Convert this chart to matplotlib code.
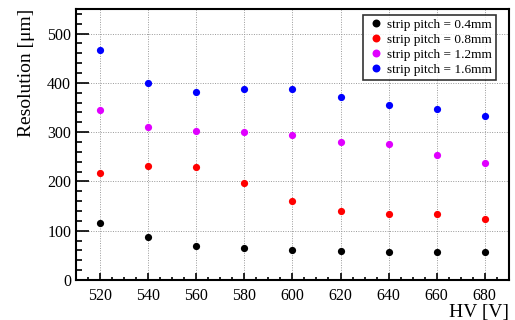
import numpy as np
import matplotlib.pyplot as plt
from matplotlib.ticker import MultipleLocator

# HV scan points and resolution per strip pitch
hv = [520, 540, 560, 580, 600, 620, 640, 660, 680]
res_04 = [115, 88, 68, 64, 61, 59, 56, 56, 56]
res_08 = [218, 232, 230, 197, 160, 140, 134, 133, 124]
res_12 = [345, 310, 303, 301, 295, 281, 276, 253, 237]
res_16 = [467, 400, 381, 388, 388, 372, 355, 347, 333]

labels = ['strip pitch = 0.4mm', 'strip pitch = 0.8mm',
          'strip pitch = 1.2mm', 'strip pitch = 1.6mm']
colors = ['black', '#ff0000', '#e000ff', '#0000ff']

plt.rcParams['font.family'] = ['Liberation Serif', 'DejaVu Serif']

fig = plt.figure(figsize=(5.15, 3.2), dpi=100)
ax = fig.add_axes([0.1476, 0.125, 0.8404, 0.847])

for ys, c, lab in zip([res_04, res_08, res_12, res_16], colors, labels):
    ax.plot(hv, ys, 'o', color=c, ms=5.2, mec='none', label=lab)

ax.set_xlim(510, 690)
ax.set_ylim(0, 550)
ax.xaxis.set_major_locator(MultipleLocator(20))
ax.xaxis.set_minor_locator(MultipleLocator(5))
ax.yaxis.set_major_locator(MultipleLocator(100))
ax.yaxis.set_minor_locator(MultipleLocator(20))

ax.grid(True, which='major', color='#999999', linestyle=(0, (1, 1.5)), linewidth=0.7)
ax.set_axisbelow(True)

for s in ax.spines.values():
    s.set_linewidth(1.5)

ax.tick_params(axis='both', which='both', direction='in', top=False, right=False,
               labelsize=11.5, width=1.2)
ax.tick_params(axis='y', which='major', length=9)
ax.tick_params(axis='y', which='minor', length=4.5)
ax.tick_params(axis='x', which='major', length=5)
ax.tick_params(axis='x', which='minor', length=2.5)
ax.tick_params(axis='x', pad=6)

ax.set_ylabel('Resolution [\u03bcm]', fontsize=14, loc='top', labelpad=9)
fig.text(0.988, 0.025, 'HV [V]', fontsize=14, ha='right', va='center')

leg = ax.legend(loc='upper right', bbox_to_anchor=(0.97, 0.978), borderaxespad=0,
                fontsize=9.5, frameon=True, fancybox=False,
                edgecolor='black', handletextpad=0.2, borderpad=0.3,
                labelspacing=0.2, handlelength=1.3, markerscale=1.1)
leg.get_frame().set_linewidth(1.2)

fig.savefig('out.png', dpi=100)
